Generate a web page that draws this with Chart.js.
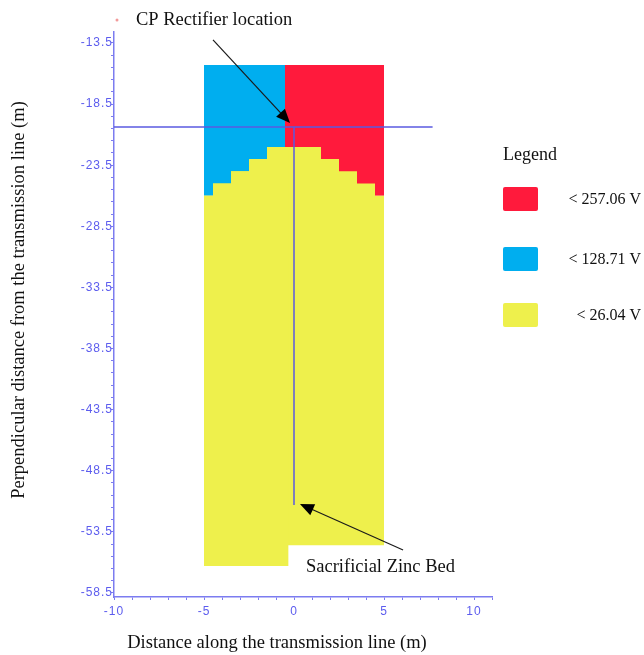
<!DOCTYPE html>
<html>
<head>
<meta charset="utf-8">
<title>Potential zones around the CP rectifier</title>
<script src="https://cdn.jsdelivr.net/npm/chart.js@4.4.1/dist/chart.umd.min.js"></script>
<style>
  html, body { margin: 0; padding: 0; background: #ffffff; }
  #wrap { width: 644px; height: 655px; }
</style>
</head>
<body>
<div id="wrap"><canvas id="myChart" width="644" height="655"></canvas></div>
<script>
'use strict';

// column edges along the line (m) and top of the yellow zone for each column
let columnEdges = [-5, -4.5, -3.5, -2.5, -1.5, -0.5, 0.5, 1.5, 2.5, 3.5, 4.5, 5];
let yellowTop = [-26, -25, -24, -23, -22, -22, -22, -23, -24, -25, -26];

// upper zones: blue left of the split, red right of it
let zoneTop = -15.3;
let zoneSplit = -0.5;

// bottom of the yellow zone (deeper left of the split)
let bottomSplit = -0.3;
let bottomLevels = [-56.3, -54.6];

// marker lines through the rectifier
let markerLevel = -20.37;
let markerEndX = 7.7;
let rectifierX = 0;
let zincBedY = -51.3;

// axes
let yTickLabels = [-13.5, -18.5, -23.5, -28.5, -33.5, -38.5, -43.5, -48.5, -53.5, -58.5];
let xTickLabels = [-10, -5, 0, 5, 10];

// legend
let legendLabels = ['< 257.06 V', '< 128.71 V', '< 26.04 V'];
let zoneColors = ['#ff1a3c', '#00aeef', '#eef04c'];

let axisColor = '#7c7cf0';
let tickColor = '#5c5cee';
let markerColor = '#5a5ae0';

// yellow top level of the column holding x
function levelAt(x){
  for(let i = 0; i < yellowTop.length; i++){
    if(x < columnEdges[i + 1]){
      return yellowTop[i];
    }
  }
  return yellowTop[yellowTop.length - 1];
}

// stepped outline of the yellow top between two x values
function topPoints(from, to){
  let pts = [{x: from, y: levelAt(from)}];
  for(let i = 0; i < columnEdges.length; i++){
    if(columnEdges[i] > from && columnEdges[i] < to){
      pts.push({x: columnEdges[i], y: levelAt(columnEdges[i])});
    }
  }
  pts.push({x: to, y: levelAt(to - 0.001)});
  return pts;
}

let deepestTop = Math.min(...yellowTop);
let xMin = columnEdges[0];
let xMax = columnEdges[columnEdges.length - 1];

let xTicks = [];
for(let v = -10; v <= 11; v++){
  xTicks.push(v);
}
let yTicks = [];
for(let v = yTickLabels[yTickLabels.length - 1]; v <= yTickLabels[0]; v++){
  yTicks.push(v);
}

function zone(points, color, fillTo, order, stepped){
  return {
    data: points,
    showLine: true,
    stepped: stepped,
    borderWidth: 0,
    borderColor: color,
    backgroundColor: color,
    pointRadius: 0,
    fill: {value: fillTo},
    order: order
  };
}

function marker(points){
  return {
    data: points,
    showLine: true,
    borderColor: markerColor,
    borderWidth: 1.5,
    pointRadius: 0,
    fill: false,
    order: -1
  };
}

// arrows and labels
function drawArrow(ctx, x1, y1, x2, y2){
  let ang = Math.atan2(y2 - y1, x2 - x1);
  let len = 14;
  let half = 6;
  let cos = Math.cos(ang);
  let sin = Math.sin(ang);
  ctx.strokeStyle = '#1a1a1a';
  ctx.fillStyle = '#000000';
  ctx.lineWidth = 1.2;
  ctx.beginPath();
  ctx.moveTo(x1, y1);
  ctx.lineTo(x2 - len * cos * 0.7, y2 - len * sin * 0.7);
  ctx.stroke();
  ctx.beginPath();
  ctx.moveTo(x2, y2);
  ctx.lineTo(x2 - len * cos + half * sin, y2 - len * sin - half * cos);
  ctx.lineTo(x2 - len * cos - half * sin, y2 - len * sin + half * cos);
  ctx.closePath();
  ctx.fill();
}

const notesPlugin = {
  id: 'notes',
  beforeDraw(chart){
    // the tick labels are drawn a little spaced out
    chart.ctx.letterSpacing = '1px';
  },
  beforeDatasetsDraw(chart){
    chart.ctx.letterSpacing = '0px';
  },
  afterDraw(chart){
    const ctx = chart.ctx;
    const xs = chart.scales.x;
    const ys = chart.scales.y;
    ctx.save();
    ctx.letterSpacing = '0px';

    // axis titles
    ctx.fillStyle = '#111111';
    ctx.font = '18.5px "Liberation Serif"';
    ctx.textAlign = 'center';
    ctx.textBaseline = 'middle';
    ctx.fillText('Distance along the transmission line (m)', 277, 643);
    ctx.save();
    ctx.translate(19, 300);
    ctx.rotate(-Math.PI / 2);
    ctx.fillText('Perpendicular distance from the transmission line (m)', 0, 0);
    ctx.restore();

    // annotations
    ctx.textAlign = 'left';
    ctx.textBaseline = 'alphabetic';
    ctx.fillText('CP Rectifier location', 136, 25);
    ctx.fillText('Sacrificial Zinc Bed', 306, 572);

    ctx.fillStyle = '#f29a9a';
    ctx.beginPath();
    ctx.arc(117, 20, 1.5, 0, Math.PI * 2);
    ctx.fill();

    drawArrow(ctx, xs.getPixelForValue(-4.5), ys.getPixelForValue(-13.25),
      xs.getPixelForValue(-0.22), ys.getPixelForValue(-20.05));
    drawArrow(ctx, xs.getPixelForValue(6.06), ys.getPixelForValue(-54.98),
      xs.getPixelForValue(0.33), ys.getPixelForValue(-51.22));

    // legend
    ctx.fillStyle = '#111111';
    ctx.font = '18px "Liberation Serif"';
    ctx.textBaseline = 'middle';
    ctx.fillText('Legend', 503, 155);
    let boxTops = [187, 247, 303];
    ctx.font = '16px "Liberation Serif"';
    ctx.textAlign = 'right';
    for(let i = 0; i < legendLabels.length; i++){
      ctx.fillStyle = zoneColors[i];
      ctx.beginPath();
      ctx.roundRect(503, boxTops[i], 35, 24, 2);
      ctx.fill();
      ctx.fillStyle = '#111111';
      ctx.fillText(legendLabels[i], 641, boxTops[i] + 13);
    }
    ctx.restore();
  }
};

const ctx = document.getElementById('myChart');
new Chart(ctx, {
  type: 'scatter',
  data: {
    datasets: [
      zone([{x: xMin, y: zoneTop}, {x: zoneSplit, y: zoneTop}], zoneColors[1], deepestTop, 2, false),
      zone([{x: zoneSplit, y: zoneTop}, {x: xMax, y: zoneTop}], zoneColors[0], deepestTop, 2, false),
      zone(topPoints(xMin, xMax), zoneColors[2], bottomLevels[1], 1, true),
      zone(topPoints(xMin, bottomSplit), zoneColors[2], bottomLevels[0], 0, true),
      marker([{x: -10, y: markerLevel}, {x: markerEndX, y: markerLevel}]),
      marker([{x: rectifierX, y: markerLevel}, {x: rectifierX, y: zincBedY}])
    ]
  },
  options: {
    responsive: false,
    animation: false,
    layout: {padding: {top: 32, right: 152, left: 0, bottom: 0}},
    plugins: {
      legend: {display: false},
      tooltip: {enabled: false}
    },
    scales: {
      x: {
        type: 'linear',
        min: -10,
        max: 11,
        afterFit(scale){ scale.height = 58; },
        afterBuildTicks(scale){ scale.ticks = xTicks.map(v => ({value: v})); },
        ticks: {
          autoSkip: false,
          maxRotation: 0,
          padding: 4,
          color: tickColor,
          font: {family: 'Liberation Sans', size: 12},
          callback(v){ return xTickLabels.includes(v) ? String(v) : ''; }
        },
        grid: {drawOnChartArea: false, drawTicks: true, tickLength: 3, color: axisColor},
        border: {color: axisColor, width: 1.5}
      },
      y: {
        type: 'linear',
        min: -58.83,
        max: -12.6,
        afterFit(scale){ scale.width = 114; },
        afterBuildTicks(scale){ scale.ticks = yTicks.map(v => ({value: v})); },
        ticks: {
          autoSkip: false,
          padding: -2,
          color: tickColor,
          font: {family: 'Liberation Sans', size: 12},
          callback(v){ return yTickLabels.includes(v) ? v.toFixed(1) : ''; }
        },
        grid: {drawOnChartArea: false, drawTicks: true, tickLength: 3, color: axisColor},
        border: {color: axisColor, width: 1.5}
      }
    }
  },
  plugins: [notesPlugin]
});
</script>
</body>
</html>
